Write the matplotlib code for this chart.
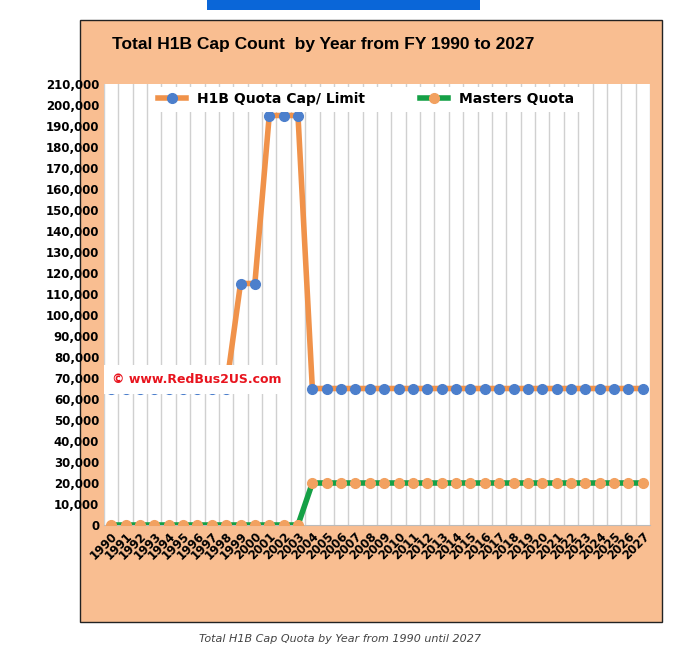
import numpy as np
import matplotlib.pyplot as plt
from matplotlib.patches import Rectangle

years = list(range(1990, 2028))
h1b_cap = [65000] * 9 + [115000, 115000, 195000, 195000, 195000] + [65000] * 24
masters = [0] * 14 + [20000] * 24

fig = plt.figure(figsize=(6.8, 6.55), dpi=100)
fig.patch.set_facecolor('white')

# background axes: peach panel and blue strip at top
bg = fig.add_axes([0, 0, 1, 1], zorder=-1)
bg.set_xlim(0, 680)
bg.set_ylim(655, 0)
bg.axis('off')
bg.add_patch(Rectangle((80, 20), 582, 602, facecolor='#F9BE91', edgecolor='#222222', lw=1))
bg.add_patch(Rectangle((207, 0), 273, 10, facecolor='#0A66D8', edgecolor='none'))

ax = fig.add_axes([104/680, 1-525/655, 546/680, 441/655], zorder=1)
ax.set_facecolor('white')
ax.plot(years, h1b_cap, color='#F0924A', lw=4, marker='o', ms=7,
        mfc='#4C7FCC', mec='#4C7FCC', label='H1B Quota Cap/ Limit', zorder=3)
ax.plot(years, masters, color='#15A046', lw=4, marker='o', ms=7,
        mfc='#F2A160', mec='#F2A160', label='Masters Quota', zorder=3)

ax.set_xlim(1989.5, 2027.5)
ax.set_ylim(0, 210000)
ax.set_yticks(range(0, 210001, 10000))
ax.set_yticklabels([f'{v:,}' for v in range(0, 210001, 10000)], fontsize=8.5, fontweight='bold')
ax.set_xticks(years)
ax.set_xticklabels([str(y) for y in years], rotation=45, ha='right', rotation_mode='anchor',
                   fontsize=8.5, fontweight='bold')
ax.set_xticks(np.arange(1989.5, 2028, 1), minor=True)
ax.grid(True, which='minor', axis='x', color='#D0D0D0', lw=1)
ax.tick_params(which='both', length=0)
for s in ['top', 'right', 'left']:
    ax.spines[s].set_visible(False)
ax.spines['bottom'].set_color('#BBBBBB')

ax.legend(loc='upper center', ncol=2, frameon=True, fancybox=False, edgecolor='none',
          facecolor='white', framealpha=1, prop={'weight': 'bold', 'size': 10},
          bbox_to_anchor=(0.48, 1.01), columnspacing=4, handlelength=2)

ax.text(0.015, 0.33, '© www.RedBus2US.com', transform=ax.transAxes, color='#E8141E',
        fontsize=9, fontweight='bold', va='center',
        bbox=dict(facecolor='white', edgecolor='none', pad=6))

fig.text(323/680, 1-44/655, 'Total H1B Cap Count  by Year from FY 1990 to 2027',
         ha='center', va='center', fontsize=12.5, fontweight='bold', family='Liberation Sans')
fig.text(340/680, 1-639/655, 'Total H1B Cap Quota by Year from 1990 until 2027',
         ha='center', va='center', fontsize=8, style='italic', color='#444444')

fig.savefig('out.png', dpi=100)
